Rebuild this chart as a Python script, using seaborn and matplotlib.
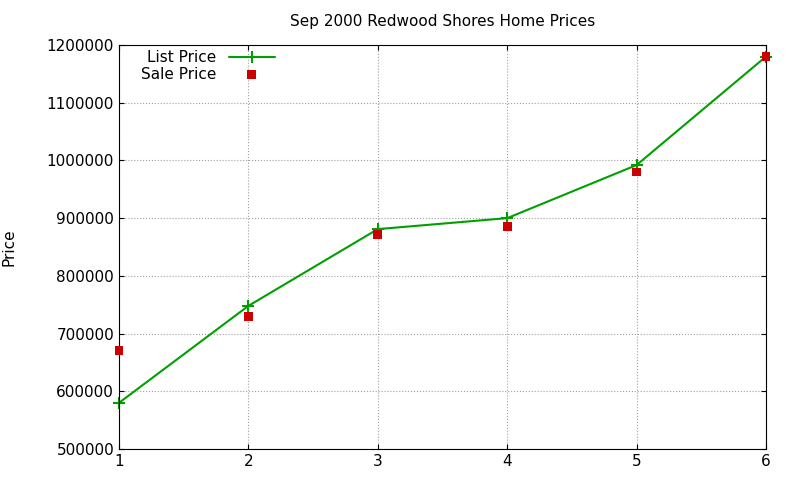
import matplotlib
matplotlib.use("Agg")
import matplotlib.pyplot as plt
import seaborn as sns
import pandas as pd

houses = [1, 2, 3, 4, 5, 6]
list_price = [580000, 748000, 881000, 900000, 992000, 1180000]
sale_price = [670000, 730000, 871000, 885000, 980000, 1180000]

sns.set_style("ticks")
plt.rcParams['font.family'] = ['DejaVu Sans']
plt.rcParams['text.color'] = 'black'
plt.rcParams['xtick.color'] = 'black'
plt.rcParams['ytick.color'] = 'black'
fig = plt.figure(figsize=(8, 4.8), dpi=100)
ax = fig.add_axes([119/800, 1-449/480, (766-119)/800, (449-45)/480])
df = pd.DataFrame({"x": houses, "list": list_price, "sale": sale_price})
sns.lineplot(data=df, x="x", y="list", ax=ax, color="#00a000", marker="+",
             markersize=9, markeredgewidth=1.5, markeredgecolor="#00a000",
             linewidth=1.5, label="List Price", clip_on=False)
sns.scatterplot(data=df, x="x", y="sale", ax=ax, color="#cc0000", marker="s",
                s=40, edgecolor="none", label="Sale Price", zorder=3, clip_on=False)
ax.set_xlim(1, 6)
ax.set_ylim(500000, 1200000)
ax.set_xticks(houses)
ax.set_yticks(range(500000, 1200001, 100000))
ax.ticklabel_format(style="plain", axis="y")
ax.grid(True, color="#a0a0a0", linestyle=":", linewidth=0.8)
for s in ax.spines.values():
    s.set_color("black")
ax.tick_params(direction="in", labelsize=11, top=True, right=True)
ax.set_xlabel("")
ax.set_ylabel("Price", fontsize=11, labelpad=22, color="black")
ax.set_title("Sep 2000 Redwood Shores Home Prices", fontsize=11, pad=14, color="black")
ax.legend(loc="upper left", markerfirst=False, frameon=False, fontsize=11,
          handlelength=3, borderpad=0.1, labelspacing=0.1, bbox_to_anchor=(0.02, 1.01))
fig.savefig("out.png", dpi=100)
